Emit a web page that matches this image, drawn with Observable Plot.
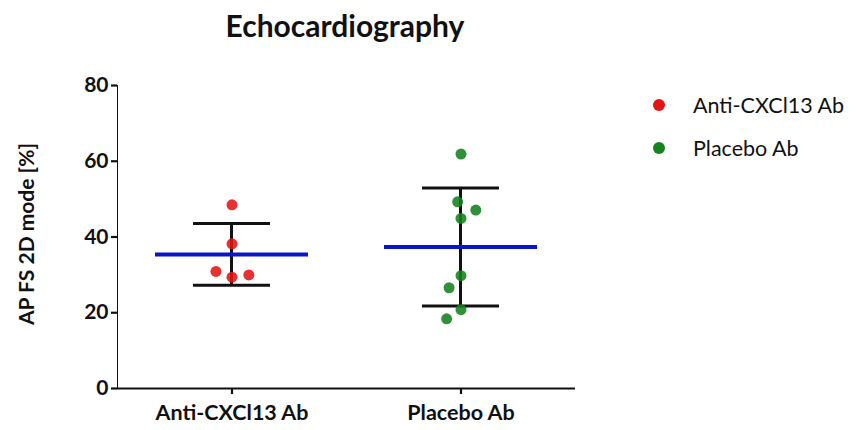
<!DOCTYPE html>
<html>
<head>
<meta charset="utf-8">
<script src="https://cdn.jsdelivr.net/npm/d3@7"></script>
<script src="https://cdn.jsdelivr.net/npm/@observablehq/plot@0.6"></script>
<style>
  html, body { margin: 0; padding: 0; background: #fff; }
  #wrap { position: relative; width: 857px; height: 430px; font-family: Lato, "Open Sans", sans-serif; color: #111; }
  #title { position: absolute; left: 0; width: 690px; top: 7px; text-align: center; font-weight: bold; font-size: 30px; line-height: 36px; }
  #ylabel { position: absolute; left: 26px; top: 234px; transform: translate(-50%, -50%) rotate(-90deg); white-space: nowrap; font-weight: bold; font-size: 21px; line-height: 24px; }
  #legend { position: absolute; left: 653px; top: 91px; font-size: 21.5px; }
  #legend .row { display: flex; align-items: center; height: 28px; margin-bottom: 15px; }
  #legend .sw { width: 12px; height: 12px; border-radius: 50%; margin-right: 28px; }
  #chart { position: absolute; left: 0; top: 0; }
  #chart svg g[aria-label="y-axis tick label"] { font: bold 21px Lato, sans-serif; }
  #chart svg g[aria-label="fx-axis tick label"] { font: bold 21.5px Lato, sans-serif; }
  #chart svg g[aria-label="y-axis tick"], #chart svg g[aria-label="fx-axis tick"], #chart svg g[aria-label="y-axis line"] { stroke-width: 2.2px; }
</style>
</head>
<body>
<div id="wrap">
  <div id="chart"></div>
  <div id="title"></div>
  <div id="ylabel"></div>
  <div id="legend"></div>
</div>
<script>
const title = "Echocardiography";
const yLabel = "AP FS 2D mode [%]";
const groups = ["Anti-CXCl13 Ab", "Placebo Ab"];
const colors = ["#e41414", "#14821e"];
const antiValues = [48.5, 38.2, 29.4, 30.9, 30.0];
const placeboValues = [61.9, 44.9, 49.3, 47.1, 29.8, 26.6, 20.8, 18.4];
const yTicks = [0, 20, 40, 60, 80];

const points = [
  ...antiValues.map(v => ({group: groups[0], value: v})),
  ...placeboValues.map(v => ({group: groups[1], value: v}))
];
const stats = groups.map((g, i) => {
  const vals = [antiValues, placeboValues][i];
  const m = d3.mean(vals), s = d3.deviation(vals);
  return {group: g, mean: m, lo: m - s, hi: m + s};
});

const plot = Plot.plot({
  width: 857,
  height: 430,
  marginLeft: 117,
  marginRight: 282,
  marginTop: 85,
  marginBottom: 42,
  style: {fontFamily: "Lato, sans-serif", color: "#111"},
  fx: {domain: groups, padding: 0, label: null, axis: "bottom", tickSize: 6, tickPadding: 10},
  y: {domain: [0, 80], ticks: yTicks, tickSize: 6, tickPadding: 3, line: true, label: null},
  color: {domain: groups, range: colors},
  marks: [
    Plot.ruleY([0], {stroke: "#111", strokeWidth: 2.2}),
    Plot.barY(stats, {fx: "group", y1: "lo", y2: "hi", fill: "#111", insetLeft: 113, insetRight: 113}),
    Plot.tickY(stats, {fx: "group", y: "hi", stroke: "#111", strokeWidth: 3, insetLeft: 76, insetRight: 76}),
    Plot.tickY(stats, {fx: "group", y: "lo", stroke: "#111", strokeWidth: 3, insetLeft: 76, insetRight: 76}),
    Plot.tickY(stats, {fx: "group", y: "mean", stroke: "#0a14c8", strokeWidth: 4, insetLeft: 38, insetRight: 38}),
    Plot.dot(points, Plot.dodgeX({anchor: "middle", padding: 6},
      {fx: "group", y: "value", r: 5.5, fill: "group", fillOpacity: 0.88, stroke: "none"}))
  ]
});
document.getElementById("chart").appendChild(plot);

document.getElementById("title").textContent = title;
document.getElementById("ylabel").textContent = yLabel;
const legend = document.getElementById("legend");
groups.forEach((g, i) => {
  const row = document.createElement("div");
  row.className = "row";
  const sw = document.createElement("span");
  sw.className = "sw";
  sw.style.background = colors[i];
  const t = document.createElement("span");
  t.textContent = g;
  row.appendChild(sw);
  row.appendChild(t);
  legend.appendChild(row);
});
</script>
</body>
</html>
